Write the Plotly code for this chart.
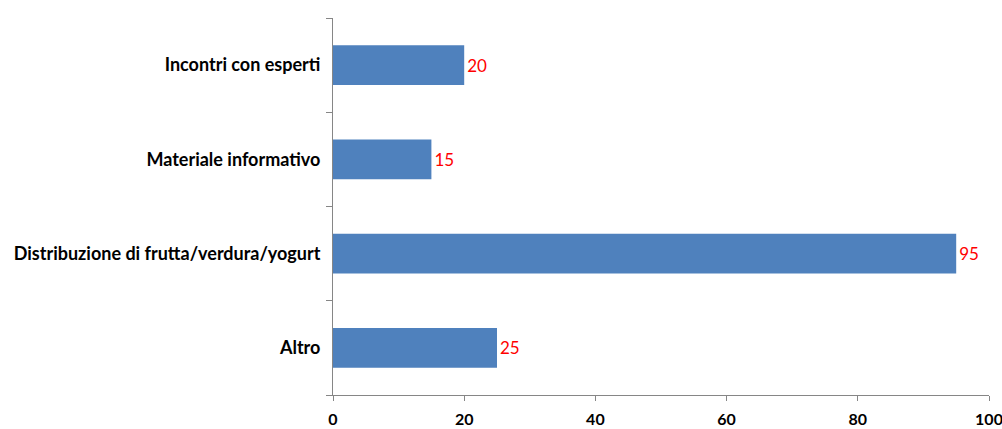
import plotly.graph_objects as go

categories = ["Altro", "Distribuzione di frutta/verdura/yogurt", "Materiale informativo", "Incontri con esperti"]
values = [25, 95, 15, 20]
x_ticks = [0, 20, 40, 60, 80, 100]

axis_color = "#868686"
bar_color = "#4f81bd"

fig = go.Figure(
    go.Bar(
        x=values,
        y=categories,
        orientation="h",
        marker=dict(color=bar_color, line=dict(width=0)),
        width=0.42,
        text=[str(v) for v in values],
        textposition="outside",
        textfont=dict(color="#ff0000", size=17, family="Lato"),
        cliponaxis=False,
    )
)

fig.update_layout(
    width=1002,
    height=429,
    margin=dict(l=333, r=13, t=18, b=34),
    paper_bgcolor="white",
    plot_bgcolor="white",
    showlegend=False,
    font=dict(family="Lato", size=17, color="black"),
)

fig.update_xaxes(
    range=[0, 100],
    tickvals=x_ticks,
    automargin=False,
    ticklabeloverflow="allow",
    showgrid=False,
    zeroline=False,
    showline=True,
    linecolor=axis_color,
    linewidth=1,
    ticks="outside",
    ticklen=5,
    tickcolor=axis_color,
    tickfont=dict(family="Lato", size=16, color="black", weight="bold"),
    ticklabelstandoff=5,
)

fig.update_yaxes(
    categoryorder="array",
    categoryarray=categories,
    automargin=False,
    showgrid=False,
    showline=True,
    linecolor=axis_color,
    linewidth=1,
    ticks="outside",
    tickson="boundaries",
    ticklen=6,
    tickcolor=axis_color,
    tickfont=dict(family="Lato", size=18, color="black", weight="bold"),
    ticklabelstandoff=8,
)

# drop the default body margin so the figure sits at the page corner
fig.write_html(
    "out.html",
    config={"displayModeBar": False},
    post_script="document.body.style.margin='0';",
)
